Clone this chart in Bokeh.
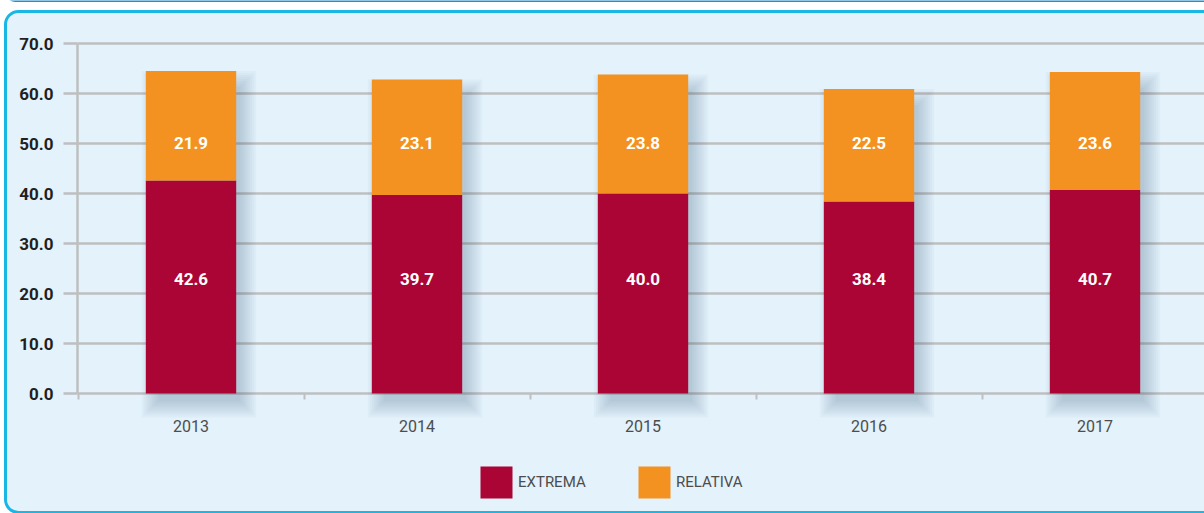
from bokeh.plotting import figure
from bokeh.models import (Range1d, FixedTicker, BoxAnnotation, Legend, LegendItem,
                          ColumnDataSource, NumeralTickFormatter)
from bokeh.core.properties import value
from bokeh.embed import file_html
from bokeh.resources import INLINE

# ---- data ----
years = ["2013", "2014", "2015", "2016", "2017"]
extrema = [42.6, 39.7, 40.0, 38.4, 40.7]
relativa = [21.9, 23.1, 23.8, 22.5, 23.6]
series_names = ["EXTREMA", "RELATIVA"]
y_ticks = [0, 10, 20, 30, 40, 50, 60, 70]

# ---- style ----
RED = "#AB0535"
ORANGE = "#F39220"
BG = "#E3F2FB"
GRID = "#BEBFC1"
TEAL = "#1AB6E6"
FONT = "Roboto"

W, H = 1204, 513
PX_PER_CAT = 226.0          # horizontal pixels per category
PX_PER_UNIT = 5.0           # vertical pixels per value unit
AXIS_X_PX = 77.0            # y-axis line position on canvas
ZERO_Y_PX = 393.0           # baseline position on canvas

x_start = -0.5 - (AXIS_X_PX + 0.5) / PX_PER_CAT
x_end = x_start + W / PX_PER_CAT
y_end = ZERO_Y_PX / PX_PER_UNIT
y_start = -(H - ZERO_Y_PX) / PX_PER_UNIT
axis_x = x_start + AXIS_X_PX / PX_PER_CAT
BAR_W = 0.4

p = figure(width=W, height=H,
           x_range=Range1d(x_start, x_end), y_range=Range1d(y_start, y_end),
           output_backend="svg", toolbar_location=None,
           min_border=0, min_border_left=0, min_border_right=0,
           min_border_top=0, min_border_bottom=0,
           background_fill_color="white", border_fill_color="white",
           outline_line_color=None)

# thin blue line at very top (frame above)
top_line = BoxAnnotation(left=5, right=W + 60, top=-40, bottom=1.5,
                         left_units="canvas", right_units="canvas",
                         top_units="canvas", bottom_units="canvas",
                         fill_color="#1F8FD2", fill_alpha=1.0, line_color=None,
                         border_radius=10, level="image")
p.add_layout(top_line)

# rounded light-blue panel
panel = BoxAnnotation(left=5, right=W + 60, top=11, bottom=512,
                      left_units="canvas", right_units="canvas",
                      top_units="canvas", bottom_units="canvas",
                      fill_color=BG, fill_alpha=1.0,
                      line_color=TEAL, line_alpha=1.0, line_width=3,
                      border_radius=13, level="image")
p.add_layout(panel)

xs = list(range(len(years)))
totals = [e + r for e, r in zip(extrema, relativa)]

# horizontal grid lines (incl. baseline)
p.segment(x0=axis_x, x1=x_end, y0=y_ticks, y1=y_ticks,
          line_color=GRID, line_width=2.5)

# soft drop shadows (offset right/down, blurred by stacked layers)
off_x, off_y = 8.0, 12.0
for k in range(9):
    e = -4 + 2 * k
    p.vbar(x=[x + off_x / PX_PER_CAT for x in xs],
           width=BAR_W + 2 * e / PX_PER_CAT,
           top=[t - (off_y - e) / PX_PER_UNIT for t in totals],
           bottom=-(off_y + e) / PX_PER_UNIT,
           fill_color="#2E4A60", fill_alpha=0.026, line_color=None)

src = ColumnDataSource(dict(x=xs, ext=extrema, rel=relativa, tot=totals,
                            ext_lbl=[f"{v:.1f}" for v in extrema],
                            rel_lbl=[f"{v:.1f}" for v in relativa]))

r_ext = p.vbar(x="x", width=BAR_W, bottom=0, top="ext", source=src,
               fill_color=RED, line_color=None)
r_rel = p.vbar(x="x", width=BAR_W, bottom="ext", top="tot", source=src,
               fill_color=ORANGE, line_color=None)

LBL_Y_EXT = 23.0
LBL_Y_REL = 50.2
for col, yy in (("ext_lbl", LBL_Y_EXT), ("rel_lbl", LBL_Y_REL)):
    p.text(x="x", y=yy, text=col, source=src,
           text_align="center", text_baseline="middle", text_color="white",
           text_font=value(FONT), text_font_style="bold", text_font_size="17px")

p.xgrid.visible = False
p.ygrid.visible = False

# y axis (fixed inside the frame)
ya = p.yaxis[0]
ya.fixed_location = axis_x
ya.ticker = FixedTicker(ticks=y_ticks)
ya.formatter = NumeralTickFormatter(format="0.0")
ya.bounds = (0, 70)
ya.axis_line_color = GRID
ya.axis_line_width = 2.5
ya.major_tick_out = 14
ya.major_tick_in = 0
ya.major_tick_line_color = GRID
ya.major_tick_line_width = 2.5
ya.minor_tick_line_color = None
ya.major_label_standoff = 10
ya.major_label_text_font = FONT
ya.major_label_text_font_style = "bold"
ya.major_label_text_font_size = "17px"
ya.major_label_text_color = "#231F20"

# x axis (fixed at zero)
xa = p.xaxis[0]
xa.fixed_location = 0
xa.ticker = FixedTicker(ticks=xs, minor_ticks=[x - 0.5 for x in xs] + [xs[-1] + 0.5])
xa.major_label_overrides = {x: y for x, y in zip(xs, years)}
xa.axis_line_color = None
xa.major_tick_line_color = None
xa.major_tick_out = 0
xa.major_tick_in = 0
xa.minor_tick_out = 6
xa.minor_tick_in = 0
xa.minor_tick_line_color = GRID
xa.minor_tick_line_width = 2
xa.major_label_standoff = 20
xa.major_label_text_font = FONT
xa.major_label_text_font_size = "16px"
xa.major_label_text_color = "#4D4D4D"

# legends (one per series, placed inside the frame)
def make_legend(label, rend, loc):
    return Legend(items=[LegendItem(label=label, renderers=[rend])],
                  location=loc, orientation="horizontal",
                  glyph_width=40, glyph_height=40, label_standoff=2,
                  padding=0, margin=0, spacing=0,
                  border_line_color=None, background_fill_alpha=0,
                  label_text_font=FONT, label_text_font_size="15px",
                  label_text_color="#4D4D4D")

p.add_layout(make_legend(series_names[0], r_ext, (476, 11)))
p.add_layout(make_legend(series_names[1], r_rel, (634, 11)))

open("out.html", "w").write(file_html(p, INLINE))
